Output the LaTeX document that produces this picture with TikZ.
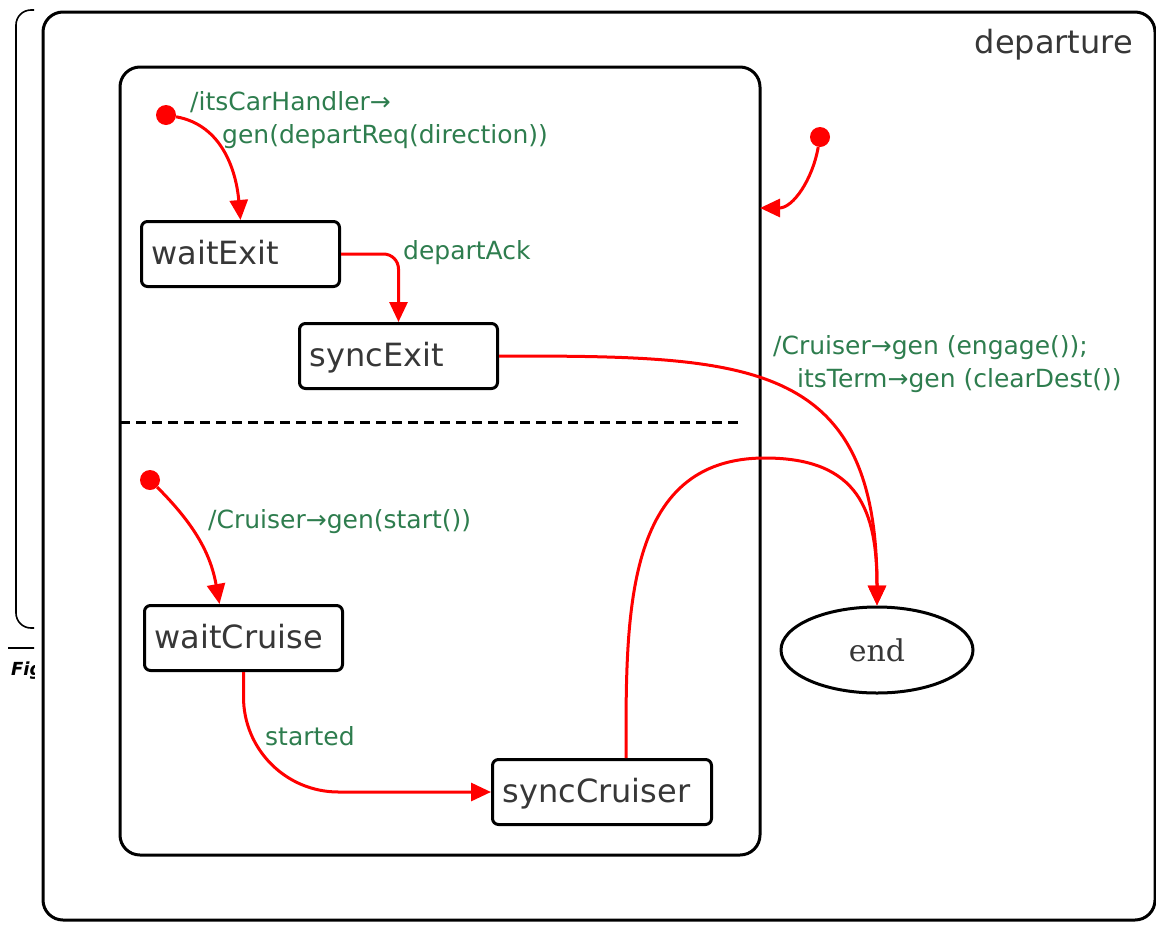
\documentclass[tikz,border=0pt]{standalone}
\usepackage{fontspec}
\setmainfont{DejaVu Sans}
\newfontfamily\serifend{DejaVu Serif}
\usetikzlibrary{shapes.geometric, arrows.meta, positioning}
\definecolor{transred}{RGB}{255, 0, 0}
\definecolor{guardgreen}{RGB}{46, 125, 78}
\definecolor{statetext}{RGB}{55, 55, 55}

\begin{document}
\begin{tikzpicture}[x=1pt, y=-1pt,
    statebox/.style={draw, line width=3pt, rounded corners=6pt, anchor=north west,
      minimum height=65pt, text width=178pt, inner xsep=10pt, align=left,
      text depth=0.38em, text=statetext, font=\fontsize{32}{36}\selectfont},
    initdot/.style={circle, fill=transred, minimum size=20pt, inner sep=0pt},
    trans/.style={draw=transred, line width=3pt, -{Triangle[length=20pt, width=18pt]}},
    guard/.style={text=guardgreen, anchor=west, align=left, inner sep=0pt,
      font=\fontsize{25}{33}\selectfont}]
    \useasboundingbox (0,0) rectangle (1156,924);

    % clipped piece of the neighbouring figure
    \begin{scope}
        \clip (0,0) rectangle (34,924);
        \draw[line width=1.6pt, rounded corners=15pt] (36,10) -- (16,10) -- (16,628) -- (36,628);
        \draw[line width=1.6pt] (8,648) -- (36,648);
        \node[anchor=west, inner sep=0pt, font=\fontsize{18}{18}\selectfont\bfseries\itshape] (figcap) at (11,671) {Fig};
    \end{scope}

    % composite state and its two regions
    \draw[line width=3pt, rounded corners=20pt] (43,12) rectangle (1155,920);
    \node[anchor=east, inner sep=0pt, text=statetext, font=\fontsize{32}{36}\selectfont] (departure) at (1133,45) {departure};
    \draw[line width=3pt, rounded corners=20pt] (120,67) rectangle (760,855);
    \draw[line width=3pt, dash pattern=on 10pt off 6pt] (120,422) -- (738,422);
    \coordinate (regEntry) at (760,208);
    \coordinate (crTop) at (765,458);

    % states
    \node[statebox] (waitExit) at (140,220) {waitExit};
    \node[statebox] (syncExit) at (298,322) {syncExit};
    \node[statebox] (waitCruise) at (143,604) {waitCruise};
    \node[statebox, text width=199pt] (syncCruiser) at (491,758) {syncCruiser};
    \node[draw, ellipse, line width=3pt, minimum width=192pt, minimum height=86pt,
      text=statetext, font=\serifend\fontsize{30}{34}\selectfont] (endState) at (877,650) {end};

    % initial pseudostates
    \node[initdot] (init1) at (166,115) {};
    \node[initdot] (init2) at (820,137) {};
    \node[initdot] (init3) at (150,480) {};

    % transitions
    \draw[trans] (init1) to[out=-10, in=95] (waitExit.north);
    \draw[trans, rounded corners=15pt] (waitExit) -| (syncExit);
    \draw[trans] (init2) to[out=-100, in=0] (regEntry);
    \draw[trans] (syncExit.east) to[out=0, in=90, looseness=1.4] (endState.north);
    \draw[trans] (init3) to[out=-45, in=100] ([xshift=-24pt]waitCruise.north);
    \draw[trans, rounded corners=95pt] (waitCruise.south) |- (syncCruiser.west);
    \draw[trans] ([xshift=24pt]syncCruiser.north) to[out=90, in=180, looseness=1.1] (crTop)
        to[out=0, in=90, looseness=1.3] (endState.north);

    % guards and actions
    \node[guard] (lblDepart) at (190,120) {/itsCarHandler→\\\hspace*{32pt}gen(departReq(direction))};
    \node[guard] (lblAck) at (403,253) {departAck};
    \node[guard] (lblEngage) at (773,364) {/Cruiser→gen (engage());\\\hspace*{24pt}itsTerm→gen (clearDest())};
    \node[guard] (lblStart) at (208,522) {/Cruiser→gen(start())};
    \node[guard] (lblStarted) at (265,736) {started};
\end{tikzpicture}
\end{document}
